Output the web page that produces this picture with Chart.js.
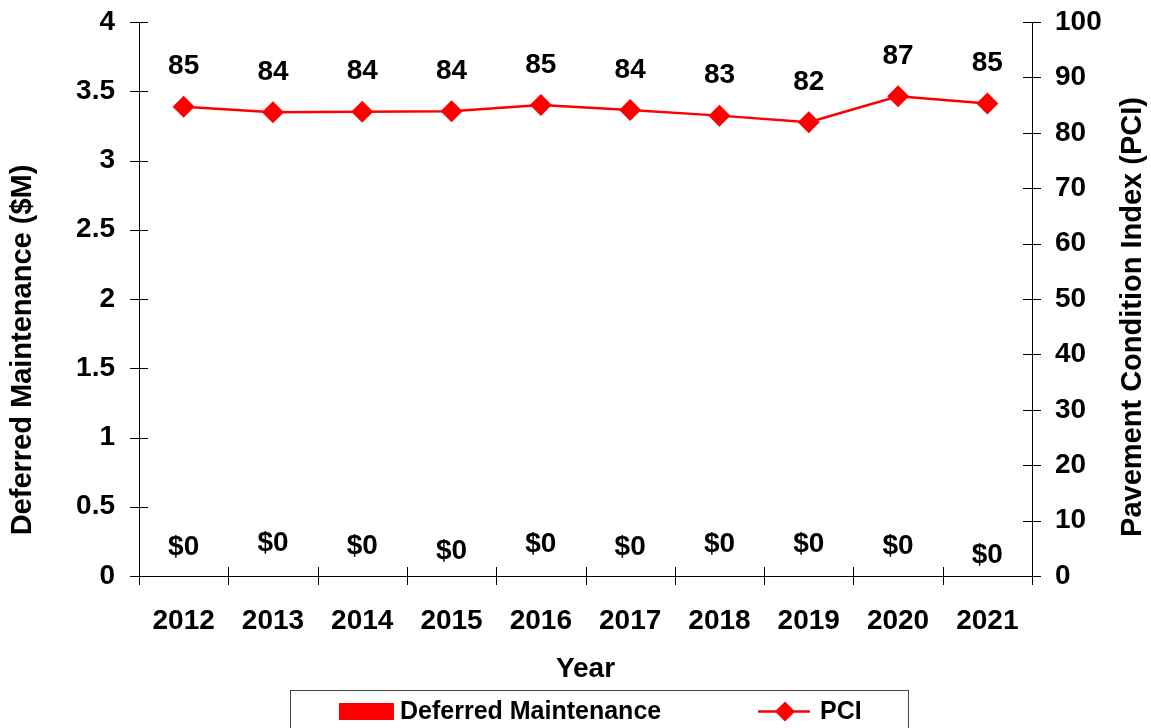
<!DOCTYPE html>
<html>
<head>
<meta charset="utf-8">
<title>Deferred Maintenance and PCI</title>
<script src="https://cdn.jsdelivr.net/npm/chart.js@4/dist/chart.umd.min.js"></script>
<style>
  html, body { margin: 0; padding: 0; background: #fff; }
  canvas { display: block; }
</style>
</head>
<body>
<canvas id="pci-chart" width="1151" height="728"></canvas>
<script>
const years = ['2012', '2013', '2014', '2015', '2016', '2017', '2018', '2019', '2020', '2021'];
// deferred maintenance in $M
const deferredMaintenance = [0, 0, 0, 0, 0, 0, 0, 0, 0, 0];
// pavement condition index
const pciValues = [84.7, 83.7, 83.8, 83.9, 85.0, 84.1, 83.1, 81.9, 86.6, 85.3];

// how far each "$0" label sits above the zero line
const dollarLift = [29, 33, 30, 25, 32, 29, 32, 32, 30, 21];

const FONT = "'Liberation Sans', Arial, sans-serif";
Chart.defaults.font.family = FONT;
Chart.defaults.font.size = 28;
Chart.defaults.font.weight = 'bold';
Chart.defaults.color = '#000';

// small tick marks that cross the axis lines
const tickMarks = {
    id: 'tickMarks',
    afterDraw(chart) {
        const ctx = chart.ctx;
        const x = chart.scales.x, yl = chart.scales.yLeft, yr = chart.scales.yRight;
        ctx.save();
        ctx.strokeStyle = '#000';
        ctx.lineWidth = 1;
        ctx.beginPath();
        yl.ticks.forEach((t, i) => {
            const py = Math.round(yl.getPixelForTick(i)) + 0.5;
            ctx.moveTo(yl.right - 9, py);
            ctx.lineTo(yl.right + 9, py);
        });
        yr.ticks.forEach((t, i) => {
            const py = Math.round(yr.getPixelForTick(i)) + 0.5;
            ctx.moveTo(yr.left - 9, py);
            ctx.lineTo(yr.left + 9, py);
        });
        const step = x.width / years.length;
        for (let i = 0; i <= years.length; i++) {
            const px = Math.round(x.left + i * step) + 0.5;
            ctx.moveTo(px, x.top - 9);
            ctx.lineTo(px, x.top + 9);
        }
        ctx.stroke();
        ctx.restore();
    }
};

// value labels over the PCI points and the maintenance bars
const valueLabels = {
    id: 'valueLabels',
    afterDatasetsDraw(chart) {
        const ctx = chart.ctx;
        ctx.save();
        ctx.font = 'bold 28px ' + FONT;
        ctx.fillStyle = '#000';
        ctx.textAlign = 'center';
        ctx.textBaseline = 'middle';
        chart.getDatasetMeta(1).data.forEach((pt, i) => {
            ctx.fillText(String(Math.round(pciValues[i])), pt.x, pt.y - 40);
        });
        chart.getDatasetMeta(0).data.forEach((bar, i) => {
            ctx.fillText('$' + deferredMaintenance[i], bar.x, bar.y - dollarLift[i]);
        });
        ctx.restore();
    }
};

// rotated titles for both value axes
const sideTitles = {
    id: 'sideTitles',
    afterDraw(chart) {
        const ctx = chart.ctx;
        ctx.save();
        ctx.font = 'bold 29px ' + FONT;
        ctx.fillStyle = '#000';
        ctx.textAlign = 'center';
        ctx.textBaseline = 'middle';
        ctx.translate(23, 350);
        ctx.rotate(-Math.PI / 2);
        ctx.fillText('Deferred Maintenance ($M)', 0, 0);
        ctx.restore();

        ctx.save();
        ctx.font = 'bold 29px ' + FONT;
        ctx.fillStyle = '#000';
        ctx.textAlign = 'center';
        ctx.textBaseline = 'middle';
        ctx.translate(1133, 317);
        ctx.rotate(-Math.PI / 2);
        ctx.fillText('Pavement Condition Index (PCI)', 0, 0);
        ctx.restore();
    }
};

// boxed legend under the x axis
const boxLegend = {
    id: 'boxLegend',
    afterDraw(chart) {
        const ctx = chart.ctx;
        const ds = chart.data.datasets;
        ctx.save();
        ctx.strokeStyle = '#444';
        ctx.lineWidth = 1;
        ctx.strokeRect(290.5, 690.5, 618, 60);

        ctx.fillStyle = 'red';
        ctx.fillRect(339, 703, 55, 17);

        ctx.strokeStyle = 'red';
        ctx.lineWidth = 2.5;
        ctx.beginPath();
        ctx.moveTo(758, 711.5);
        ctx.lineTo(810, 711.5);
        ctx.stroke();
        ctx.beginPath();
        ctx.moveTo(775, 711.5);
        ctx.lineTo(785, 701.5);
        ctx.lineTo(795, 711.5);
        ctx.lineTo(785, 721.5);
        ctx.closePath();
        ctx.fill();

        ctx.fillStyle = '#000';
        ctx.font = 'bold 25px ' + FONT;
        ctx.textAlign = 'left';
        ctx.textBaseline = 'middle';
        ctx.fillText(ds[0].label, 400, 712);
        ctx.fillText(ds[1].label, 820, 712);
        ctx.restore();
    }
};

function fitValueAxis(width) {
    return function (scale) {
        scale.width = width;
        scale.paddingTop = 0;
        scale.paddingBottom = 0;
    };
}

new Chart(
    document.getElementById('pci-chart'),
    {
        data: {
            labels: years,
            datasets: [
                {
                    type: 'bar',
                    label: 'Deferred Maintenance',
                    data: deferredMaintenance,
                    backgroundColor: 'red',
                    borderWidth: 0,
                    yAxisID: 'yLeft'
                },
                {
                    type: 'line',
                    label: 'PCI',
                    data: pciValues,
                    borderColor: 'red',
                    backgroundColor: 'red',
                    borderWidth: 2.5,
                    pointStyle: 'rectRot',
                    pointRadius: 11,
                    pointBorderWidth: 0,
                    tension: 0,
                    yAxisID: 'yRight'
                }
            ]
        },
        options: {
            responsive: false,
            animation: false,
            layout: {
                padding: { top: 22, bottom: 42, left: 0, right: 0 }
            },
            plugins: {
                legend: { display: false },
                tooltip: { enabled: false }
            },
            scales: {
                x: {
                    grid: { display: false, drawTicks: false },
                    border: { color: '#000', width: 1 },
                    ticks: { padding: 28, maxRotation: 0, autoSkip: false },
                    title: {
                        display: true,
                        text: 'Year',
                        font: { size: 28, weight: 'bold' },
                        padding: { top: 0, bottom: 0 }
                    },
                    afterFit(scale) { scale.height = 110; }
                },
                yLeft: {
                    position: 'left',
                    min: 0,
                    max: 4,
                    grid: { display: false, drawTicks: false },
                    border: { color: '#000', width: 1 },
                    ticks: {
                        stepSize: 0.5,
                        padding: 24,
                        callback: (v) => String(v)
                    },
                    afterFit: fitValueAxis(139)
                },
                yRight: {
                    position: 'right',
                    min: 0,
                    max: 100,
                    grid: { display: false, drawTicks: false },
                    border: { color: '#000', width: 1 },
                    ticks: { stepSize: 10, padding: 23 },
                    afterFit: fitValueAxis(119)
                }
            }
        },
        plugins: [tickMarks, valueLabels, sideTitles, boxLegend]
    }
);
</script>
</body>
</html>
